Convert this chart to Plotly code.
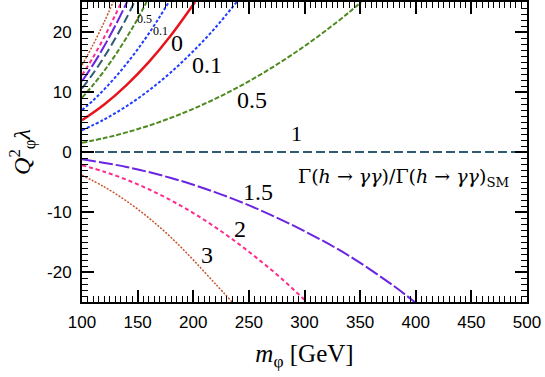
import plotly.graph_objects as go

# Q^2 lambda contours for fixed Gamma(h->gg)/Gamma_SM
# each curve ends where it leaves the frame (+-25)
m_r0 = [100, 120, 140, 160, 180, 201.6]
q_r0 = [5.3, 7.93, 11.16, 14.99, 19.46, 25]

m_r01_lo = [100, 120, 140, 160, 180, 200, 220, 239]
q_r01_lo = [3.62, 5.43, 7.63, 10.25, 13.3, 16.8, 20.74, 25]
m_r01_hi = [100, 110, 120, 130, 140, 150, 160, 170, 178]
q_r01_hi = [6.98, 8.61, 10.44, 12.47, 14.69, 17.11, 19.73, 22.57, 25]

m_r05_lo = [100, 120, 140, 160, 180, 200, 220, 240, 260, 280, 300, 320, 340, 351]
q_r05_lo = [1.55, 2.32, 3.27, 4.39, 5.7, 7.2, 8.88, 10.77, 12.86, 15.15, 17.64, 20.35, 23.27, 25]
m_r05_hi = [100, 110, 120, 130, 140, 150, 158]
q_r05_hi = [9.05, 11.17, 13.54, 16.17, 19.05, 22.19, 25]

m_r1_flat = [100, 500]
q_r1_flat = [0, 0]
m_r1_hi = [100, 110, 120, 130, 140, 147]
q_r1_hi = [10.6, 13.09, 15.87, 18.94, 22.32, 25]

m_r15_hi = [100, 110, 120, 130, 140.5]
q_r15_hi = [11.79, 14.56, 17.65, 21.07, 25]
m_r15_lo = [100, 140, 180, 220, 260, 300, 340, 380, 399]
q_r15_lo = [-1.19, -2.5, -4.33, -6.72, -9.68, -13.2, -17.3, -22.3, -25]

m_r2_hi = [100, 110, 120, 130, 135.4]
q_r2_hi = [12.8, 15.8, 19.15, 22.86, 25]
m_r2_lo = [100, 120, 140, 160, 180, 200, 220, 240, 260, 280, 302]
q_r2_lo = [-2.2, -3.29, -4.62, -6.21, -8.06, -10.17, -12.56, -15.2, -18.1, -21.2, -25]

m_r3_hi = [100, 110, 120, 128]
q_r3_hi = [14.48, 17.88, 21.68, 25]
m_r3_lo = [100, 120, 140, 160, 180, 200, 220, 235]
q_r3_lo = [-3.88, -5.81, -8.17, -10.98, -14.24, -17.98, -22.0, -25]

ytick_vals = [-20, -10, 0, 10, 20]
ytick_text = ['-20', '-10', '0', '10', '20']

# curve labels: text, m, Q^2 lambda, font size
label_text = ['0.5', '0.1', '0', '0.1', '0.5', '1', '1.5', '2', '3']
label_m = [156.6, 171, 185, 212, 252.5, 293, 258.5, 242, 212]
label_q = [22.1, 20.2, 18.1, 14.5, 8.6, 3.1, -6.7, -12.8, -17.2]
label_size = [12, 12, 24, 24, 24, 22, 24, 24, 24]

fig = go.Figure()


def curve(x, y, color, width, dash):
    fig.add_trace(go.Scatter(x=x, y=y, mode='lines', line_shape='spline',
                             line=dict(color=color, width=width, dash=dash),
                             showlegend=False, hoverinfo='skip'))


brown = '#c4542a'
pink = '#ff2c8e'
purple = '#6a24e2'
slate = '#2e5a72'
green = '#4e8a1f'
blue = '#1f3cff'
red = '#e8141c'

curve(m_r3_hi, q_r3_hi, brown, 1.5, '2px,1.5px')
curve(m_r3_lo, q_r3_lo, brown, 1.5, '2px,1.5px')
curve(m_r2_hi, q_r2_hi, pink, 2, '4px,3px')
curve(m_r2_lo, q_r2_lo, pink, 2, '4px,3px')
curve(m_r15_hi, q_r15_hi, purple, 2, '14px,3px')
curve(m_r15_lo, q_r15_lo, purple, 2, '14px,3px')
curve(m_r1_hi, q_r1_hi, slate, 2, '9px,4px')
curve(m_r1_flat, q_r1_flat, slate, 2, '9px,4px')
curve(m_r05_hi, q_r05_hi, green, 2, '5px,2px')
curve(m_r05_lo, q_r05_lo, green, 2, '5px,2px')
curve(m_r01_hi, q_r01_hi, blue, 2, '3px,2px')
curve(m_r01_lo, q_r01_lo, blue, 2, '3px,2px')
curve(m_r0, q_r0, red, 2.5, 'solid')

serif = 'Liberation Serif'
for t, xm, yq, s in zip(label_text, label_m, label_q, label_size):
    fig.add_annotation(x=xm, y=yq, text=t, showarrow=False,
                       font=dict(family=serif, size=s, color='black'))

fig.add_annotation(x=389, y=-4.2, showarrow=False,
                   text='Γ(<i>h</i> → <i>γγ</i>)/Γ(<i>h</i> → <i>γγ</i>)<sub>SM</sub>',
                   font=dict(family='DejaVu Serif', size=19, color='black'))

axis_common = dict(
    showline=True, linecolor='black', linewidth=2, mirror='allticks',
    ticks='inside', ticklen=12, tickwidth=1.5, tickcolor='black',
    showgrid=False, zeroline=False, automargin=False,
    ticklabeloverflow='allow',
    tickfont=dict(family='Liberation Sans', size=17, color='black'),
)

fig.update_layout(
    width=545, height=377,
    margin=dict(l=82, r=18, t=2, b=75),
    paper_bgcolor='white', plot_bgcolor='white',
    xaxis=dict(range=[100, 500], tick0=100, dtick=50, ticklabelstandoff=4,
               minor=dict(dtick=5, tick0=100, ticks='inside', ticklen=6,
                          tickwidth=1, tickcolor='black'),
               title=dict(text='<i>m</i><sub>φ</sub> [GeV]', standoff=13,
                          font=dict(family=serif, size=25, color='black')),
               **axis_common),
    yaxis=dict(range=[-25, 25], tickmode='array', tickvals=ytick_vals,
               ticktext=ytick_text, ticklabelstandoff=5,
               minor=dict(tickmode='linear', dtick=1, tick0=0, ticks='inside',
                          ticklen=6, tickwidth=1, tickcolor='black'),
               title=dict(text='<i>Q</i><sup>2</sup><sub>φ</sub><i>λ</i>', standoff=10,
                          font=dict(family=serif, size=24, color='black')),
               **axis_common),
)

# the page body has a default 8px margin; drop it so the figure fills the window
fig.write_html("out.html", config={'displayModeBar': False},
               post_script="document.body.style.margin='0';")
